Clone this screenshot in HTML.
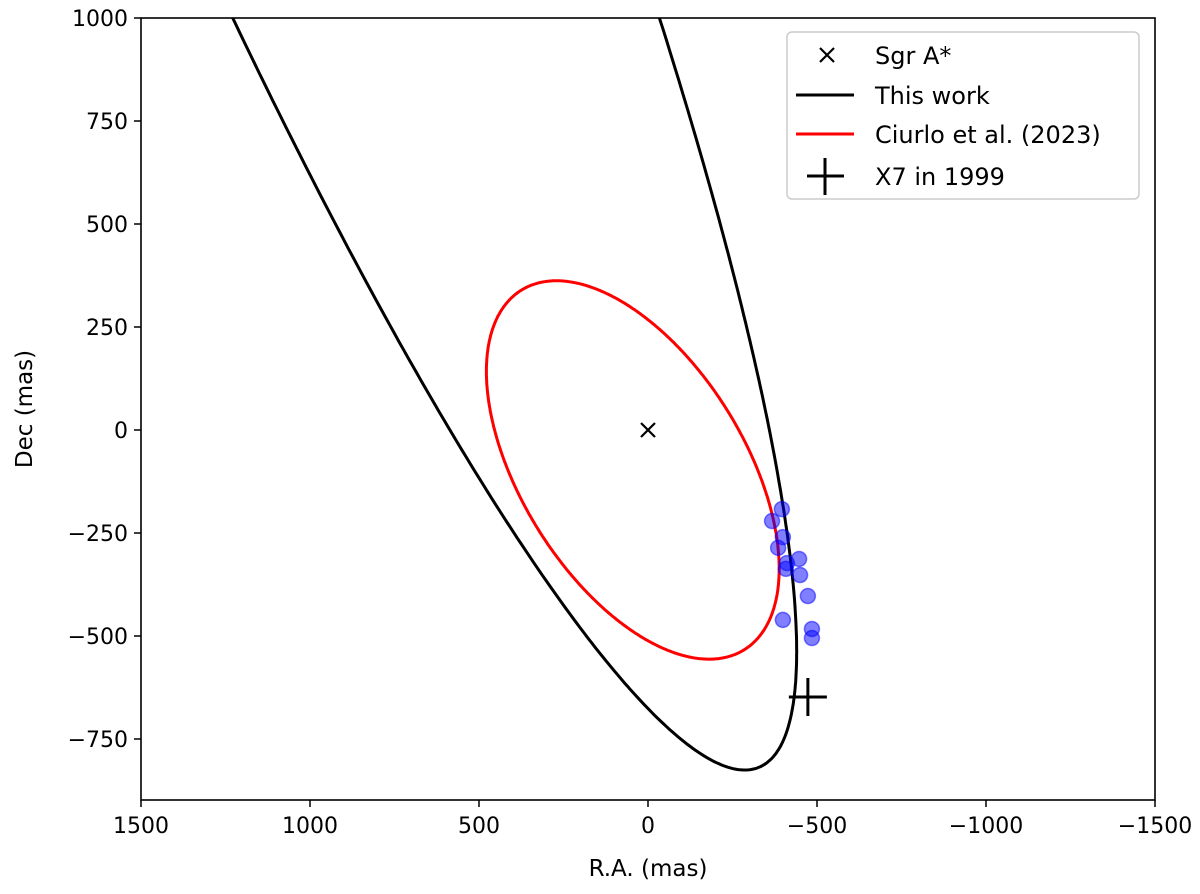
<!DOCTYPE html>
<html><head><meta charset="utf-8"><style>
body{margin:0;background:#fff}
svg{display:block;font-family:"DejaVu Sans","Liberation Sans",sans-serif}
</style></head><body>
<svg id="chart" width="1200" height="894" viewBox="0 0 1200 894">
<defs><clipPath id="plotclip"><rect x="141" y="18" width="1014" height="782"/></clipPath></defs>
<g id="curves" clip-path="url(#plotclip)"></g>
<g id="marks"></g>
<rect x="141" y="18" width="1014" height="782" fill="none" stroke="#000" stroke-width="1.6"/>
<g id="axes"></g>
<text x="648" y="876" font-size="23" text-anchor="middle">R.A. (mas)</text>
<text x="32" y="409" font-size="23" text-anchor="middle" transform="rotate(-90 32 409)">Dec (mas)</text>
<g>
<rect x="787" y="32" width="352" height="167" rx="5" fill="#fff" stroke="#ccc" stroke-width="1.5"/>
<g>
<path d="M820 48 L834 62 M834 48 L820 62" stroke="#000" stroke-width="2.2"/>
<text x="875" y="64" font-size="24">Sgr A*</text></g>
<g>
<line x1="796" y1="95" x2="854" y2="95" stroke="#000" stroke-width="3"/>
<text x="875" y="104" font-size="24">This work</text></g>
<g>
<line x1="796" y1="134" x2="854" y2="134" stroke="#f00" stroke-width="3"/>
<text x="875" y="143" font-size="24">Ciurlo et al. (2023)</text></g>
<g>
<path d="M807 176 H844 M825 158 V195" stroke="#000" stroke-width="3"/>
<text x="875" y="185" font-size="24">X7 in 1999</text></g>
</g>
</svg>
<script>
// data
const xTicks=[1500,1000,500,0,-500,-1000,-1500];
const yTicks=[1000,750,500,250,0,-250,-500,-750];
const obsRA=[-396,-367,-399,-385,-447,-411,-408,-450,-473,-399,-485,-485];
const obsDec=[-192,-221,-260,-286,-313,-323,-337,-352,-403,-461,-483,-505];
const sgrA=[0,0];
const x7_1999=[-473,-648];
// ellipse params: [centerRA, centerDec, semiMajor, semiMinor, angleDeg]
const thisWorkOrbit=[1166,2175,3347,615,63.2];
const ciurloOrbit=[45,-97,551,308,48.2];

const X=v=>648+(0-v)*1014/3000;
const Y=v=>430-v*0.412;
const NS="http://www.w3.org/2000/svg";
function mk(tag,attrs,parent){const e=document.createElementNS(NS,tag);for(const k in attrs)e.setAttribute(k,attrs[k]);parent.appendChild(e);return e;}
const axes=document.getElementById('axes');
xTicks.forEach(t=>{
 const g=mk('g',{},axes);
 
 
 mk('line',{x1:X(t),x2:X(t),y1:800,y2:807,stroke:'#000','stroke-width':1.5},g);
 const tx=mk('text',{x:X(t),y:833,'font-size':22,'text-anchor':'middle'},g);
 tx.textContent=String(t).replace('-','\u2212');
});
yTicks.forEach(t=>{
 const g=mk('g',{},axes);
 
 
 mk('line',{x1:134,x2:141,y1:Y(t),y2:Y(t),stroke:'#000','stroke-width':1.5},g);
 const tx=mk('text',{x:128,y:Y(t)+8,'font-size':22,'text-anchor':'end'},g);
 tx.textContent=String(t).replace('-','\u2212');
});
function ellipsePath(p){
 const [cx,cy,a,b,ang]=p;const r=ang*Math.PI/180;let d='';
 for(let i=0;i<=720;i++){const t=i*Math.PI/360;
  const ra=cx+a*Math.cos(t)*Math.cos(r)-b*Math.sin(t)*Math.sin(r);
  const de=cy+a*Math.cos(t)*Math.sin(r)+b*Math.sin(t)*Math.cos(r);
  d+=(i?'L':'M')+X(ra).toFixed(1)+' '+Y(de).toFixed(1);}
 return d+'Z';
}
const curves=document.getElementById('curves');
const bl=mk('path',{d:ellipsePath(thisWorkOrbit),fill:'none',stroke:'#000','stroke-width':3},curves);


const rd=mk('path',{d:ellipsePath(ciurloOrbit),fill:'none',stroke:'#f00','stroke-width':3},curves);


const marks=document.getElementById('marks');
obsRA.forEach((ra,i)=>{
 const c=mk('circle',{cx:X(ra),cy:Y(obsDec[i]),r:7.5,fill:'rgba(0,0,255,0.5)',stroke:'rgba(0,0,255,0.5)','stroke-width':1.5},marks);
 
 
});
const sx=X(sgrA[0]),sy=Y(sgrA[1]);
const sg=mk('path',{d:`M${sx-7} ${sy-7}L${sx+7} ${sy+7}M${sx+7} ${sy-7}L${sx-7} ${sy+7}`,stroke:'#000','stroke-width':2.2},marks);


const px=X(x7_1999[0]),py=Y(x7_1999[1]);
const pl=mk('path',{d:`M${px-19} ${py}H${px+19}M${px} ${py-19}V${py+19}`,stroke:'#000','stroke-width':3},marks);


</script>
</body></html>
